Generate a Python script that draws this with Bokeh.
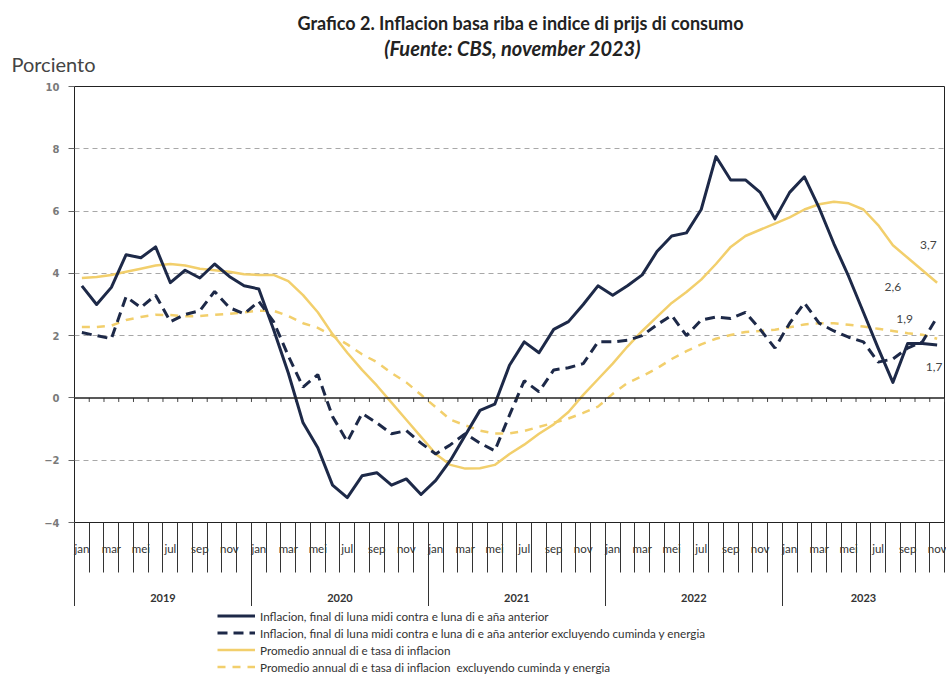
from bokeh.plotting import figure
from bokeh.layouts import column
from bokeh.models import (Range1d, FixedTicker, LinearAxis, Span, Legend,
                          LegendItem, Label, ColumnDataSource)
from bokeh.core.properties import value
from bokeh.embed import file_html
from bokeh.resources import INLINE

# ---------------- data ----------------
years = ["2019", "2020", "2021", "2022", "2023"]
month_labels = ["jan", "mar", "mei", "jul", "sep", "nov"]
n_months = 59  # jan 2019 .. nov 2023

headline = [3.6, 3.0, 3.55, 4.6, 4.5, 4.85, 3.7, 4.1, 3.85, 4.3, 3.9, 3.6,
            3.5, 2.2, 0.8, -0.8, -1.6, -2.8, -3.2, -2.5, -2.4, -2.8, -2.6, -3.1,
            -2.65, -2.0, -1.2, -0.4, -0.2, 1.05, 1.8, 1.45, 2.2, 2.45, 3.0, 3.6,
            3.3, 3.6, 3.95, 4.7, 5.2, 5.3, 6.05, 7.75, 7.0, 7.0, 6.6, 5.75,
            6.6, 7.1, 6.1, 4.95, 3.9, 2.75, 1.6, 0.5, 1.75, 1.75, 1.7]

core = [2.1, 2.0, 1.9, 3.25, 2.9, 3.3, 2.45, 2.68, 2.8, 3.42, 2.9, 2.7,
        3.1, 2.45, 1.35, 0.35, 0.75, -0.6, -1.4, -0.5, -0.8, -1.15, -1.05, -1.45,
        -1.8, -1.5, -1.15, -1.45, -1.7, -0.55, 0.55, 0.2, 0.9, 0.97, 1.1, 1.8,
        1.8, 1.85, 2.0, 2.35, 2.65, 2.0, 2.5, 2.6, 2.55, 2.75, 2.2, 1.6,
        2.4, 3.05, 2.4, 2.15, 1.95, 1.8, 1.15, 1.25, 1.6, 1.8, 2.6]

avg_headline = [3.85, 3.88, 3.95, 4.05, 4.15, 4.25, 4.3, 4.25, 4.15, 4.1, 4.05, 3.97,
                3.95, 3.95, 3.75, 3.3, 2.75, 2.05, 1.45, 0.9, 0.4, -0.15, -0.7, -1.25,
                -1.8, -2.15, -2.27, -2.26, -2.15, -1.8, -1.5, -1.15, -0.85, -0.45, 0.1, 0.6,
                1.1, 1.65, 2.15, 2.6, 3.05, 3.4, 3.8, 4.3, 4.85, 5.2, 5.4, 5.6,
                5.8, 6.05, 6.22, 6.3, 6.25, 6.05, 5.55, 4.9, 4.5, 4.1, 3.7]

avg_core = [2.28, 2.28, 2.32, 2.5, 2.6, 2.67, 2.66, 2.62, 2.63, 2.67, 2.7, 2.75,
            2.8, 2.8, 2.63, 2.4, 2.25, 2.0, 1.72, 1.4, 1.15, 0.8, 0.5, 0.1,
            -0.3, -0.7, -0.88, -1.05, -1.14, -1.14, -1.06, -0.93, -0.8, -0.66, -0.48, -0.28,
            0.13, 0.48, 0.7, 0.95, 1.25, 1.5, 1.72, 1.9, 2.02, 2.12, 2.15, 2.19,
            2.27, 2.36, 2.4, 2.4, 2.35, 2.29, 2.22, 2.15, 2.08, 2.03, 1.9]

title_text = "Grafico 2. Inflacion basa riba e indice di prijs di consumo"
subtitle_text = "(Fuente: CBS, november 2023)"
unit_text = "Porciento"
legend_labels = [
    "Inflacion, final di luna midi contra e luna di e aña anterior",
    "Inflacion, final di luna midi contra e luna di e aña anterior excluyendo cuminda y energia",
    "Promedio annual di e tasa di inflacion",
    "Promedio annual di e tasa di inflacion  excluyendo cuminda y energia",
]

# ---------------- styling ----------------
NAVY = "#1d2948"
YELLOW = "#f2cf6c"
FONT = "Lato"
W = 946
LEFT, RIGHT = 74, 2
TOP_H, MAIN_H, LEG_H = 75, 531, 70

styles = [dict(line_color=NAVY, line_width=3, line_join="round"),
          dict(line_color=NAVY, line_width=3, line_dash="10 6"),
          dict(line_color=YELLOW, line_width=2.5),
          dict(line_color=YELLOW, line_width=2.5, line_dash="8 7")]


def bare_figure(h):
    # x data units == page pixels (frame spans LEFT .. W-RIGHT)
    f = figure(width=W, height=h, output_backend="svg", toolbar_location=None,
               x_range=Range1d(LEFT, W - RIGHT), y_range=Range1d(0, h),
               x_axis_type=None, y_axis_type=None,
               min_border_left=LEFT, min_border_right=RIGHT,
               min_border_top=0, min_border_bottom=0)
    f.outline_line_color = None
    f.xgrid.visible = False
    f.ygrid.visible = False
    f.background_fill_color = "white"
    f.border_fill_color = "white"
    return f


# ---------------- title block ----------------
top = bare_figure(TOP_H)
top.add_layout(Label(x=520, y=TOP_H - 22, text=title_text, text_font=FONT,
                     text_font_size="18px", text_font_style="bold",
                     text_color="#222222", text_align="center",
                     text_baseline="middle"))
top.add_layout(Label(x=512, y=TOP_H - 47, text=subtitle_text, text_font=FONT,
                     text_font_size="20px", text_font_style="bold italic",
                     text_color="#222222", text_align="center",
                     text_baseline="middle"))
# unit caption: drawn as the label of a bare axis so it can sit left of the frame
unit_pos = TOP_H - 63
unit_axis = LinearAxis(ticker=FixedTicker(ticks=[unit_pos]))
unit_axis.major_label_overrides = {unit_pos: unit_text}
unit_axis.axis_line_color = None
unit_axis.major_tick_out = 0
unit_axis.major_tick_in = 0
unit_axis.minor_tick_out = 0
unit_axis.minor_tick_in = 0
unit_axis.major_label_standoff = -21
unit_axis.major_label_text_font = FONT
unit_axis.major_label_text_font_size = "20px"
unit_axis.major_label_text_color = "#444444"
top.add_layout(unit_axis, "left")

# ---------------- main chart ----------------
x = list(range(n_months))
bounds = [i - 0.5 for i in range(n_months + 1)]

p = figure(width=W, height=MAIN_H, output_backend="svg", toolbar_location=None,
           x_range=Range1d(-0.5, n_months - 0.5), y_range=Range1d(-4, 10),
           min_border_left=LEFT, min_border_right=RIGHT, min_border_top=11,
           min_border_bottom=84)
p.background_fill_color = "white"
p.border_fill_color = "white"
p.outline_line_color = "#222222"
p.outline_line_width = 1

p.xgrid.visible = False
p.ygrid.ticker = FixedTicker(ticks=[-2, 2, 4, 6, 8])
p.ygrid.grid_line_color = "#a8a8a8"
p.ygrid.grid_line_dash = "5 4"
p.ygrid.grid_line_width = 1

ya = p.yaxis[0]
ya.ticker = FixedTicker(ticks=list(range(-4, 11, 2)))
ya.major_tick_out = 6
ya.major_tick_in = 0
ya.minor_tick_out = 0
ya.minor_tick_in = 0
ya.major_tick_line_color = "#666666"
ya.axis_line_color = "#222222"
ya.major_label_standoff = 9
ya.major_label_text_font = "DejaVu Sans"
ya.major_label_text_font_size = "10px"
ya.major_label_text_font_style = "bold"
ya.major_label_text_color = "#7a7a7a"

month_ticks = x[::2]
xa = p.xaxis[0]
xa.ticker = FixedTicker(ticks=month_ticks, minor_ticks=bounds)
xa.major_label_overrides = {t: month_labels[(t % 12) // 2] for t in month_ticks}
xa.major_tick_out = 0
xa.major_tick_in = 0
xa.minor_tick_out = 50
xa.minor_tick_in = 0
xa.minor_tick_line_color = "#333333"
xa.axis_line_color = "#222222"
xa.major_label_standoff = -31
xa.major_label_text_font = FONT
xa.major_label_text_font_size = "11.5px"
xa.major_label_text_color = "#333333"

year_centers = []
year_bounds = []
for k in range(len(years)):
    start = 12 * k
    end = min(12 * k + 11, n_months - 1)
    year_centers.append((start + end) / 2)
    year_bounds.append(start - 0.5)
ax_year = LinearAxis(ticker=FixedTicker(ticks=year_centers, minor_ticks=year_bounds))
ax_year.major_label_overrides = {c: y for c, y in zip(year_centers, years)}
ax_year.axis_line_color = None
ax_year.major_tick_out = 0
ax_year.major_tick_in = 0
ax_year.minor_tick_in = 32
ax_year.minor_tick_out = 63
ax_year.minor_tick_line_color = "#333333"
ax_year.major_label_standoff = -27
ax_year.major_label_text_font = FONT
ax_year.major_label_text_font_size = "11px"
ax_year.major_label_text_font_style = "bold"
ax_year.major_label_text_color = "#333333"
p.add_layout(ax_year, "below")

p.add_layout(Span(location=0, dimension="width", line_color="#222222", line_width=1.5))
p.segment(x0=bounds, y0=[0] * len(bounds), x1=bounds, y1=[-0.13] * len(bounds),
          line_color="#444444", line_width=1)

src = ColumnDataSource(dict(x=x, headline=headline, core=core,
                            avg_headline=avg_headline, avg_core=avg_core))
p.line("x", "avg_core", source=src, **styles[3])
p.line("x", "avg_headline", source=src, **styles[2])
p.line("x", "core", source=src, **styles[1])
p.line("x", "headline", source=src, **styles[0])

series_last = [avg_headline[-1], core[-1], avg_core[-1], headline[-1]]
lab_dx = [-0.6, -3.0, -2.2, -0.2]
lab_dy = [1.2, 0.95, 0.65, -0.7]
lab_src = ColumnDataSource(dict(
    x=[n_months - 1 + d for d in lab_dx],
    y=[v + d for v, d in zip(series_last, lab_dy)],
    t=[f"{v:.1f}".replace(".", ",") for v in series_last]))
p.text("x", "y", text="t", source=lab_src, text_font=value(FONT),
       text_font_size="12px", text_color="#444444", text_align="center",
       text_baseline="middle")

# ---------------- legend block ----------------
# same series, same styles; their month-index x values lie outside this
# block's pixel range, so only the legend samples show
leg = bare_figure(LEG_H)
leg_src = ColumnDataSource(dict(x=x, headline=headline, core=core,
                                avg_headline=avg_headline, avg_core=avg_core))
leg_renderers = [leg.line("x", col, source=leg_src, **s)
                 for col, s in zip(["headline", "core", "avg_headline", "avg_core"], styles)]
legend = Legend(items=[LegendItem(label=lab, renderers=[r])
                       for lab, r in zip(legend_labels, leg_renderers)],
                location=(217 - LEFT, 1))
legend.border_line_color = None
legend.background_fill_alpha = 0
legend.padding = 0
legend.margin = 0
legend.spacing = 0
legend.glyph_width = 38
legend.glyph_height = 17
legend.label_height = 17
legend.label_standoff = 5
legend.label_text_font = FONT
legend.label_text_font_size = "11.7px"
legend.label_text_color = "#333333"
leg.add_layout(legend, "center")

layout = column(top, p, leg, spacing=0)
open("out.html", "w").write(file_html(layout, INLINE))
